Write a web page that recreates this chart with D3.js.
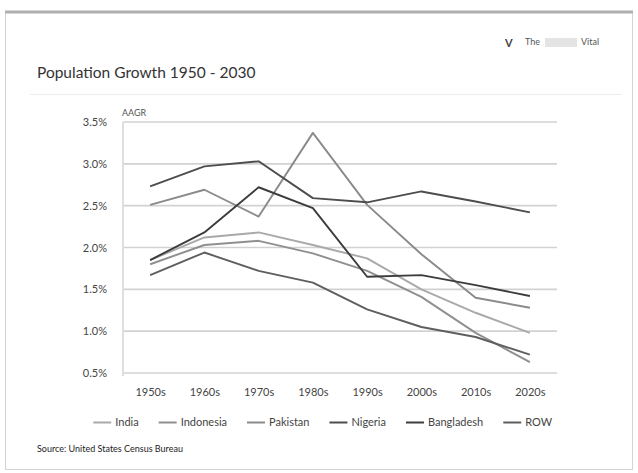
<!DOCTYPE html>
<html>
<head>
<meta charset="utf-8">
<script src="https://cdn.jsdelivr.net/npm/d3@7"></script>
<style>
  body { margin: 0; background: #fff; }
  svg text { font-family: Lato, "Liberation Sans", sans-serif; fill: #333; }
</style>
</head>
<body>
<div id="chart-area"></div>
<script>

// decades on the x axis
var decades = ["1950s", "1960s", "1970s", "1980s", "1990s", "2000s", "2010s", "2020s"];

// average annual growth rate (%) by decade
var india      = [1.85, 2.12, 2.18, 2.03, 1.87, 1.50, 1.22, 0.98];
var indonesia  = [1.80, 2.03, 2.08, 1.93, 1.72, 1.41, 0.98, 0.63];
var pakistan   = [2.51, 2.69, 2.37, 3.37, 2.51, 1.92, 1.40, 1.28];
var nigeria    = [2.73, 2.97, 3.03, 2.59, 2.54, 2.67, 2.55, 2.42];
var bangladesh = [1.85, 2.18, 2.72, 2.47, 1.65, 1.67, 1.55, 1.42];
var row        = [1.67, 1.94, 1.72, 1.58, 1.26, 1.05, 0.93, 0.72];

var seriesNames = ["India", "Indonesia", "Pakistan", "Nigeria", "Bangladesh", "ROW"];
var seriesValues = [india, indonesia, pakistan, nigeria, bangladesh, row];
var seriesColors = ["#a9a9a9", "#8f8f8f", "#8a8a8a", "#4d4d4d", "#3c3c3c", "#5e5e5e"];

var yTicks = [0.5, 1.0, 1.5, 2.0, 2.5, 3.0, 3.5];

var W = 638, H = 473;

var svg = d3.select("#chart-area").append("svg")
    .attr("width", W)
    .attr("height", H);

// frame round the whole chart
svg.append("rect")
    .attr("x", 5.5).attr("y", 11.5)
    .attr("width", 627).attr("height", 458)
    .attr("fill", "none")
    .attr("stroke", "#d4d4d4");
svg.append("line")
    .attr("x1", 5).attr("x2", 633)
    .attr("y1", 12).attr("y2", 12)
    .attr("stroke", "#b0b0b0")
    .attr("stroke-width", 3);

// logo top right
var logo = svg.append("g").attr("transform", "translate(505,47)");
logo.append("text").attr("x", 0).attr("y", 0)
    .style("font-size", "11px").style("font-weight", "bold")
    .style("fill", "#444").text("V");
logo.append("text").attr("x", 20).attr("y", -2)
    .style("font-size", "9px").style("fill", "#555").text("The");
logo.append("rect").attr("x", 40).attr("y", -9)
    .attr("width", 32).attr("height", 9).attr("fill", "#e4e4e4");
logo.append("text").attr("x", 76).attr("y", -2)
    .style("font-size", "9px").style("fill", "#555").text("Vital");

// title
svg.append("text")
    .attr("x", 37).attr("y", 78)
    .style("font-size", "15.5px")
    .style("fill", "#333")
    .text("Population Growth 1950 - 2030");

svg.append("line")
    .attr("x1", 30).attr("x2", 622)
    .attr("y1", 94.5).attr("y2", 94.5)
    .attr("stroke", "#ececec");

// scales
var x = d3.scalePoint()
    .domain(decades)
    .range([123, 557])
    .padding(0.5);

var y = d3.scaleLinear()
    .domain([0.5, 3.5])
    .range([373, 122]);

// gridlines
svg.append("g")
    .selectAll("line")
    .data(yTicks)
    .enter()
    .append("line")
    .attr("x1", 123).attr("x2", 557)
    .attr("y1", function(d) { return y(d); })
    .attr("y2", function(d) { return y(d); })
    .attr("stroke", "#d2d2d2")
    .attr("stroke-width", 1.6);

// left axis line
svg.append("line")
    .attr("x1", 123).attr("x2", 123)
    .attr("y1", 122).attr("y2", 376)
    .attr("stroke", "#dedede")
    .attr("stroke-width", 2);

// y axis labels
var yAxis = d3.axisLeft(y)
    .tickValues(yTicks)
    .tickSize(0)
    .tickPadding(16)
    .tickFormat(function(d) { return d3.format(".1f")(d) + "%"; });

svg.append("g")
    .attr("transform", "translate(123,0)")
    .call(yAxis)
    .call(function(g) { g.select(".domain").remove(); })
    .selectAll("text")
    .style("font-size", "11px")
    .style("fill", "#444");

svg.append("text")
    .attr("x", 122).attr("y", 116)
    .style("font-size", "9px")
    .style("fill", "#555")
    .text("AAGR");

// x axis labels
var xAxis = d3.axisBottom(x)
    .tickSize(0)
    .tickPadding(10);

svg.append("g")
    .attr("transform", "translate(0,378)")
    .call(xAxis)
    .call(function(g) { g.select(".domain").remove(); })
    .selectAll("text")
    .style("font-size", "11px")
    .style("fill", "#444");

// lines
var line = d3.line()
    .x(function(d, i) { return x(decades[i]); })
    .y(function(d) { return y(d); });

svg.append("g")
    .selectAll("path")
    .data(seriesValues)
    .enter()
    .append("path")
    .attr("d", line)
    .attr("fill", "none")
    .attr("stroke", function(d, i) { return seriesColors[i]; })
    .attr("stroke-width", 1.9)
    .attr("stroke-linejoin", "round");

// legend
var legend = svg.append("g").attr("class", "legend");
var items = legend.selectAll("g")
    .data(seriesNames)
    .enter()
    .append("g");

items.append("line")
    .attr("x1", 0).attr("x2", 18)
    .attr("y1", -3.5).attr("y2", -3.5)
    .attr("stroke", function(d, i) { return seriesColors[i]; })
    .attr("stroke-width", 2);

items.append("text")
    .attr("x", 22).attr("y", 0)
    .style("font-size", "11px")
    .style("fill", "#444")
    .text(function(d) { return d; });

var gap = 20, offsets = [], total = 0;
items.each(function() {
    var w = this.getBBox().width;
    offsets.push(total);
    total += w + gap;
});
total -= gap;
var startX = 323 - total / 2;
items.attr("transform", function(d, i) {
    return "translate(" + (startX + offsets[i]) + ",426)";
});

// source note
svg.append("text")
    .attr("x", 37).attr("y", 452)
    .style("font-size", "9px")
    .style("fill", "#222")
    .text("Source: United States Census Bureau");

</script>
</body>
</html>
